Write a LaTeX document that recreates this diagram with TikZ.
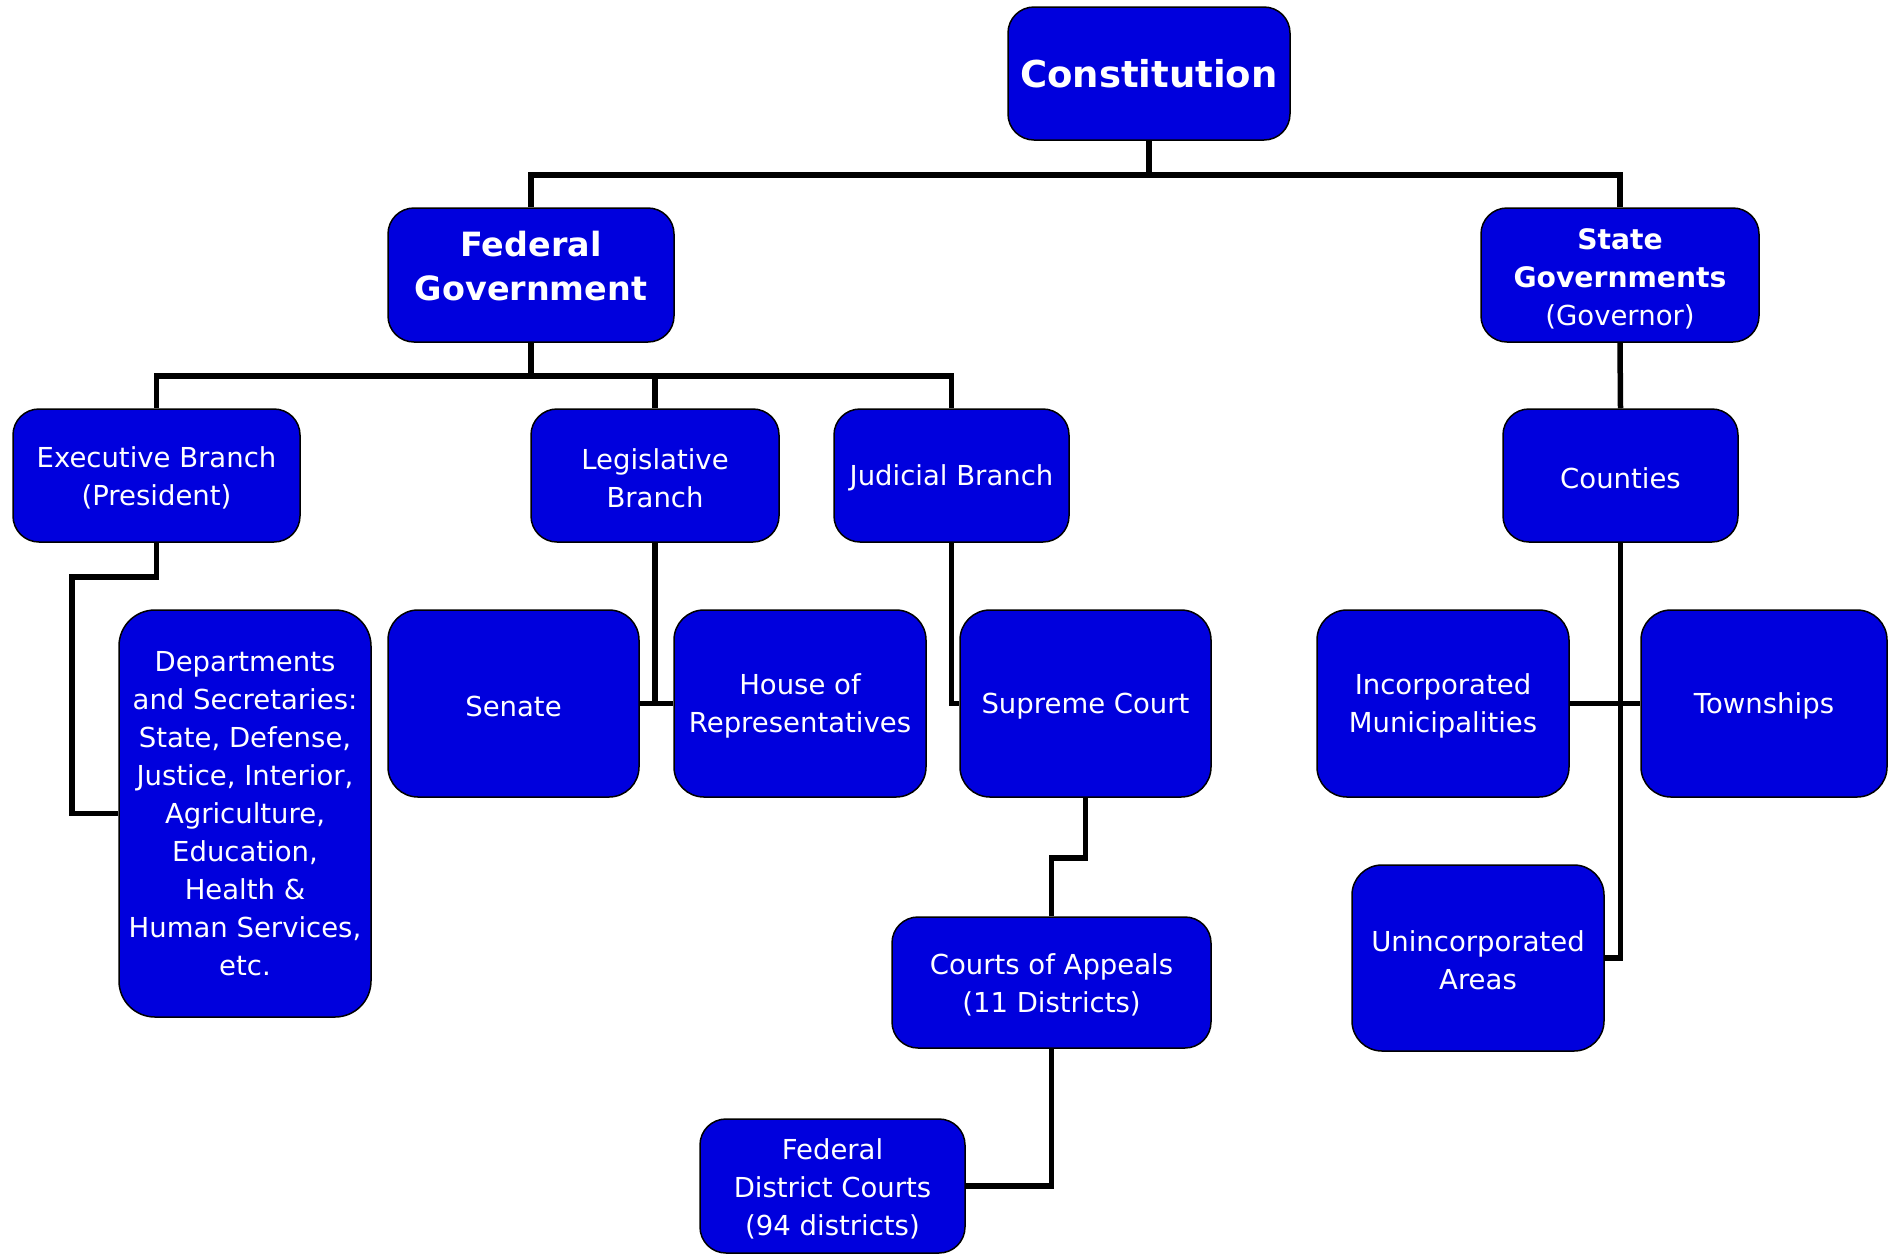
\documentclass[tikz,border=0pt]{standalone}
\usepackage{fontspec}
\setmainfont{DejaVu Sans}
\definecolor{boxblue}{RGB}{0,0,221}
\newcommand\tallstrut{\rule{0pt}{26pt}}
\begin{document}
\begin{tikzpicture}[x=1pt,y=-1pt,
  box/.style={rectangle, rounded corners=26pt, draw=black, line width=1.5pt, fill=boxblue,
    text=white, align=center, inner sep=0pt,
    font=\fontsize{27.5}{38}\selectfont},
  conn/.style={draw=black, line width=5.5pt}]
\useasboundingbox (0,0) rectangle (1888,1254);
% nodes
\node[box, minimum width=282pt, minimum height=133pt, font=\bfseries\fontsize{37}{44}\selectfont] (const) at (1149,73.5) {Constitution};
\node[box, minimum width=286pt, minimum height=134pt, font=\bfseries\fontsize{33.4}{44.6}\selectfont] (fed) at (531,275) {Federal\\Government\rule[-18pt]{0pt}{0pt}};
\node[box, minimum width=278pt, minimum height=134pt] (state) at (1620,275) {{\bfseries\fontsize{28.2}{38}\selectfont\rule{0pt}{29pt}State}\\{\bfseries\fontsize{28.2}{38}\selectfont Governments}\\(Governor)};
\node[box, minimum width=287pt, minimum height=133pt] (exec) at (156.5,475.5) {\tallstrut Executive Branch\\(President)};
\node[box, minimum width=248pt, minimum height=133pt] (leg) at (655,475.5) {\tallstrut Legislative\\Branch};
\node[box, minimum width=235pt, minimum height=133pt] (jud) at (951.5,475.5) {\tallstrut Judicial Branch};
\node[box, minimum width=235pt, minimum height=133pt] (counties) at (1620.5,475.5) {\tallstrut Counties};
\node[box, rounded corners=36pt, minimum width=252pt, minimum height=407pt] (dept) at (245,813.5) {Departments\\and Secretaries:\\State, Defense,\\Justice, Interior,\\Agriculture,\\Education,\\Health \&\\Human Services,\\etc.};
\node[box, rounded corners=30pt, minimum width=251pt, minimum height=187pt] (senate) at (513.5,703.5) {\tallstrut Senate};
\node[box, rounded corners=30pt, minimum width=252pt, minimum height=187pt] (house) at (800,703.5) {\tallstrut House of\\Representatives};
\node[box, rounded corners=30pt, minimum width=251pt, minimum height=187pt] (supreme) at (1085.5,703.5) {\tallstrut Supreme Court};
\node[box, minimum width=319pt, minimum height=131pt] (appeals) at (1051.5,982.5) {\tallstrut Courts of Appeals\\(11 Districts)};
\node[box, minimum width=265pt, minimum height=134pt] (district) at (832.5,1186) {\tallstrut Federal\\District Courts\\(94 districts)};
\node[box, rounded corners=30pt, minimum width=252pt, minimum height=187pt] (incorp) at (1443,703.5) {\tallstrut Incorporated\\Municipalities};
\node[box, rounded corners=30pt, minimum width=246pt, minimum height=187pt] (town) at (1764,703.5) {\tallstrut Townships};
\node[box, rounded corners=30pt, minimum width=252pt, minimum height=186pt] (uninc) at (1478,958) {\tallstrut Unincorporated\\Areas};
% junctions
\coordinate (j1) at (1149,175);
\coordinate (j2) at (531,376);
\coordinate (e1) at (72,577);
% connectors
\draw[conn] (const.south) -- (j1);
\draw[conn] (j1) -| (fed.north);
\draw[conn] (j1) -| (state.north);
\draw[conn] (fed.south) -- (j2);
\draw[conn] (j2) -| (exec.north);
\draw[conn] (j2) -| (leg.north);
\draw[conn] (j2) -| (jud.north);
\draw[conn] (exec.south) |- (e1) |- (dept.west);
\draw[conn] (leg.south) -- (leg.south |- senate.east);
\draw[conn] (senate.east) -- (house.west);
\draw[conn] (jud.south) |- (supreme.west);
\draw[conn] (supreme.south) -- ++(0,60) -| (appeals.north);
\draw[conn] (appeals.south) |- (district.east);
\draw[conn] (state.south) -- (counties.north);
\draw[conn] (counties.south) |- (uninc.east);
\draw[conn] (incorp.east) -- (town.west);
\end{tikzpicture}
\end{document}
